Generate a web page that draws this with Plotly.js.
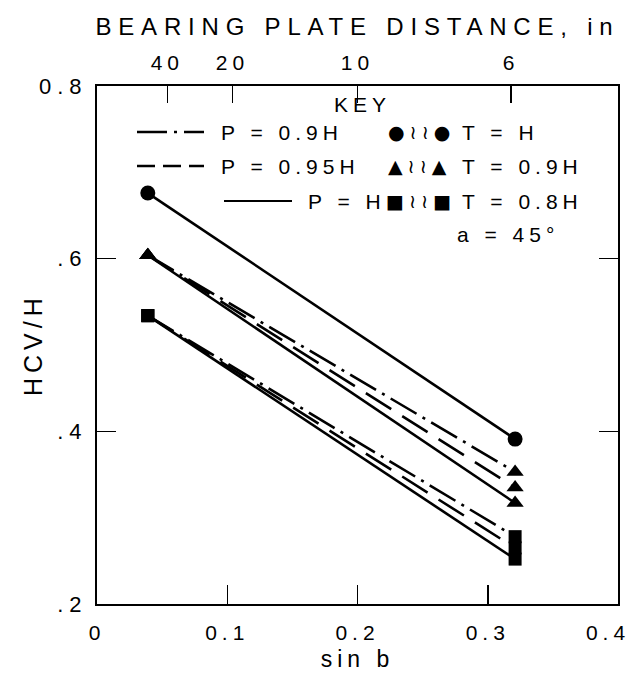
<!DOCTYPE html>
<html>
<head>
<meta charset="utf-8">
<script src="https://cdn.plot.ly/plotly-3.0.1.min.js"></script>
<style>
  html, body { margin: 0; padding: 0; background: #fff; }
  #chart { width: 636px; height: 677px; }
  text { letter-spacing: 5px; }
  text.x2title { letter-spacing: 6.8px; }
  .ytick text { letter-spacing: 6px; }
</style>
</head>
<body>
<div id="chart"></div>
<script>
// ---- data ----
const sinB = [0.039, 0.321];                 // x positions (sin b)
const circleSolid  = [0.676, 0.391];         // P = H,    T = H
const triDashDot   = [0.604, 0.353];         // P = 0.9H, T = 0.9H
const triDash      = [0.604, 0.335];         // P = 0.95H,T = 0.9H
const triSolid     = [0.604, 0.317];         // P = H,    T = 0.9H
const sqDashDot    = [0.534, 0.278];         // P = 0.9H, T = 0.8H
const sqDash       = [0.534, 0.265];         // P = 0.95H,T = 0.8H
const sqSolid      = [0.534, 0.252];         // P = H,    T = 0.8H

const xTickVals  = [0, 0.1, 0.2, 0.3];
const xTickText  = ['0', '0.1', '0.2', '0.3'];
const xEndTickVals = [0.4];                  // last label, nudged inward like the reference
const xEndTickText = ['0.4'];
const yTickVals  = [0.2, 0.4, 0.6, 0.8];
const yTickText  = ['.2', '.4', '.6', '0.8'];
const topTickVals = [0.054, 0.104, 0.2, 0.318];   // bearing plate distance positions
const topTickText = ['40', '20', '10', '6'];

// ---- styling ----
const FONT = 'Liberation Sans, Arial, Helvetica, sans-serif';
const DASHDOT = '30px,7px,3px,7px';
const DASHED  = '30px,13px';
const W = 636, H = 677;
const M = {l: 97, r: 18, t: 86, b: 73};
const PW = W - M.l - M.r, PH = H - M.t - M.b;
const PX = x => (x - M.l) / PW;
const PY = y => (H - M.b - y) / PH;

function tr(y, dash, symbol, size) {
  return {
    x: sinB, y: y, type: 'scatter', mode: 'lines+markers',
    line: {color: '#000', width: 2.6, dash: dash},
    marker: {symbol: symbol, size: size, color: '#000'},
    showlegend: false, hoverinfo: 'x+y'
  };
}

const data = [
  tr(triDashDot, DASHDOT, 'triangle-up', 15),
  tr(triDash, DASHED, 'triangle-up', 15),
  tr(triSolid, 'solid', 'triangle-up', 15),
  tr(sqDashDot, DASHDOT, 'square', 13),
  tr(sqDash, DASHED, 'square', 13),
  tr(sqSolid, 'solid', 'square', 13),
  tr(circleSolid, 'solid', 'circle', 15),
  // carriers for the extra axes (top distance axis, last bottom label)
  {x: sinB, y: circleSolid, xaxis: 'x2', yaxis: 'y', type: 'scatter', mode: 'markers',
   marker: {opacity: 0}, showlegend: false, hoverinfo: 'skip'},
  {x: sinB, y: circleSolid, xaxis: 'x3', yaxis: 'y', type: 'scatter', mode: 'markers',
   marker: {opacity: 0}, showlegend: false, hoverinfo: 'skip'}
];

const tickFont = {family: FONT, size: 21, color: '#000'};
const legFont = {family: FONT, size: 21, color: '#000'};
const symFont = {family: 'DejaVu Sans', size: 19, color: '#000'};

function legText(text, x, y, anchor) {
  return {xref: 'paper', yref: 'paper', x: PX(x), y: PY(y), text: text,
          showarrow: false, xanchor: anchor || 'left', yanchor: 'middle', font: legFont};
}
function legSym(text, x, y) {
  return {xref: 'paper', yref: 'paper', x: PX(x), y: PY(y), text: text,
          showarrow: false, xanchor: 'center', yanchor: 'middle', font: symFont};
}

const layout = {
  width: W, height: H,
  margin: M,
  paper_bgcolor: '#fff', plot_bgcolor: '#fff',
  font: {family: FONT, color: '#000'},
  showlegend: false,
  xaxis: {
    range: [0, 0.4], tickvals: xTickVals, ticktext: xTickText,
    ticks: 'inside', ticklen: 19, tickwidth: 1.5, tickcolor: '#000',
    showline: true, linecolor: '#000', linewidth: 2, mirror: true,
    showgrid: false, zeroline: false, tickfont: tickFont,
    ticklabelstandoff: 9, ticklabeloverflow: 'allow',
    title: {text: 'sin b', font: {family: FONT, size: 23, color: '#000'}, standoff: 8}
  },
  xaxis3: {
    range: [0, 0.4], overlaying: 'x', side: 'bottom', anchor: 'y',
    tickvals: xEndTickVals, ticktext: xEndTickText,
    ticks: '', showline: false, showgrid: false, zeroline: false, tickfont: tickFont,
    ticklabelstandoff: 14, ticklabelshift: -10, ticklabeloverflow: 'allow'
  },
  xaxis2: {
    range: [0, 0.4], overlaying: 'x', side: 'top', anchor: 'y',
    tickvals: topTickVals, ticktext: topTickText,
    ticks: 'inside', ticklen: 17, tickwidth: 1.5, tickcolor: '#000',
    showline: false, showgrid: false, zeroline: false, tickfont: tickFont,
    ticklabelstandoff: 11, ticklabeloverflow: 'allow',
    title: {text: 'BEARING PLATE DISTANCE, in', font: {family: FONT, size: 24, color: '#000'}, standoff: 8}
  },
  yaxis: {
    range: [0.2, 0.8], tickvals: yTickVals, ticktext: yTickText,
    ticks: 'inside', ticklen: 19, tickwidth: 1.5, tickcolor: '#000',
    showline: true, linecolor: '#000', linewidth: 2, mirror: 'ticks',
    showgrid: false, zeroline: false, tickfont: {family: FONT, size: 22, color: '#000'},
    ticklabelstandoff: 3, ticklabeloverflow: 'allow'
  },
  shapes: [
    {type: 'line', xref: 'paper', yref: 'paper', x0: PX(137), x1: PX(204), y0: PY(132), y1: PY(132),
     line: {color: '#000', width: 2.6, dash: DASHDOT}},
    {type: 'line', xref: 'paper', yref: 'paper', x0: PX(137), x1: PX(204), y0: PY(166), y1: PY(166),
     line: {color: '#000', width: 2.6, dash: '18px,8px'}},
    {type: 'line', xref: 'paper', yref: 'paper', x0: PX(224), x1: PX(292), y0: PY(201), y1: PY(201),
     line: {color: '#000', width: 2.2, dash: 'solid'}}
  ],
  annotations: [
    {xref: 'paper', yref: 'paper', x: PX(33), y: 0.5, text: 'HCV/H', textangle: -90,
     showarrow: false, xanchor: 'center', yanchor: 'middle',
     font: {family: FONT, size: 25, color: '#000'}},
    legText('KEY', 362, 104, 'center'),
    legText('P = 0.9H', 219, 132),
    legText('P = 0.95H', 219, 166),
    legText('P = H', 306, 201),
    legText('T = H', 460, 132),
    legText('T = 0.9H', 460, 166),
    legText('T = 0.8H', 460, 201),
    legText('a = 45°', 455, 234),
    legSym('●≀≀●', 421, 132),
    legSym('▲≀≀▲', 419, 166),
    legSym('■≀≀■', 421, 201)
  ]
};

Plotly.newPlot('chart', data, layout, {staticPlot: true, displayModeBar: false});
</script>
</body>
</html>
